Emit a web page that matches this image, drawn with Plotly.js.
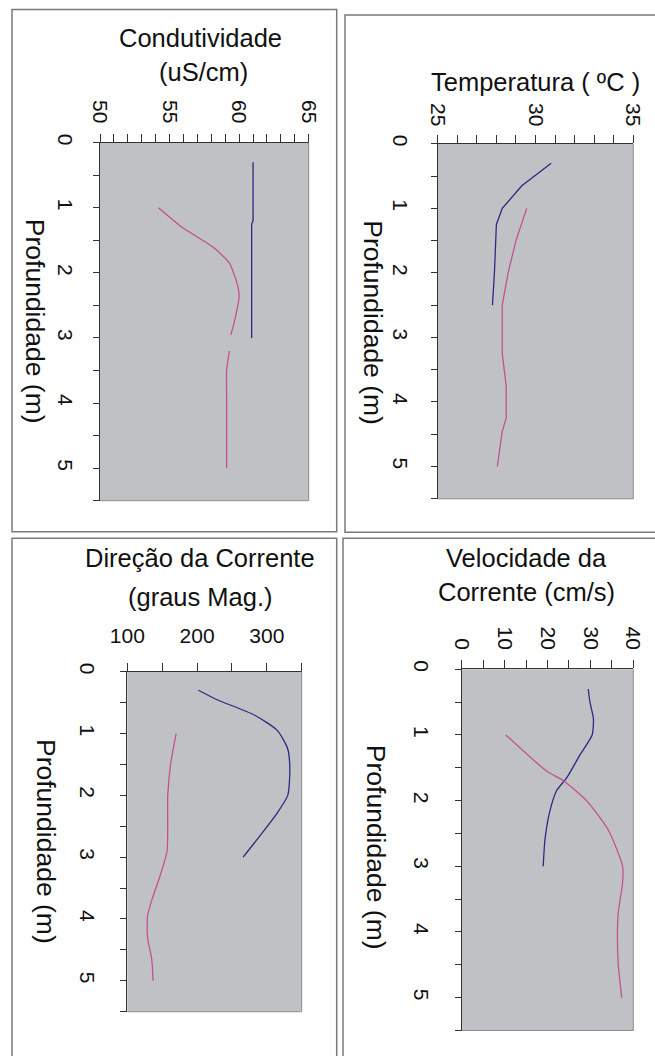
<!DOCTYPE html>
<html>
<head>
<meta charset="utf-8">
<script src="https://cdn.plot.ly/plotly-3.0.1.min.js"></script>
<style>
  html, body { margin: 0; padding: 0; background: #ffffff; }
  #chart { width: 655px; height: 1056px; }
</style>
</head>
<body>
<div id="chart"></div>
<script>
// ---------- data (depth in m) ----------
const condDepthA = [0.3, 1.2, 1.25, 3.0];
const condA      = [61.0, 61.0, 60.9, 60.9];
const condDepthB = [1.0, 1.3, 1.6, 1.85, 2.2, 2.35, 2.8, 2.95, 3.05, 3.2, 3.5, 3.9, 5.0];
const condB      = [54.2, 55.9, 58.1, 59.3, 59.9, 60.0, 59.6, 59.4, null, 59.3, 59.1, 59.1, 59.1];

const tempDepthA = [0.3, 0.65, 1.0, 1.25, 2.0, 2.5];
const tempA      = [30.8, 29.3, 28.3, 28.0, 27.9, 27.8];
const tempDepthB = [1.0, 1.5, 2.0, 2.3, 2.5, 3.0, 3.25, 3.75, 4.25, 4.45, 5.0];
const tempB      = [29.55, 29.0, 28.6, 28.4, 28.3, 28.3, 28.3, 28.5, 28.5, 28.3, 28.05];

const dirDepthA = [0.3, 0.45, 0.7, 0.95, 1.25, 1.6, 2.0, 2.3, 2.6, 3.0];
const dirA      = [202, 228, 282, 315, 330, 333, 330, 314, 294, 266];
const dirDepthB = [1.0, 1.5, 2.0, 2.9, 3.3, 3.7, 3.95, 4.3, 4.65, 5.0];
const dirB      = [170, 162, 158, 157, 147, 135, 129, 129, 135, 137];

const velDepthA = [0.3, 0.5, 0.75, 1.0, 1.3, 1.65, 1.85, 2.2, 2.6, 3.0];
const velA      = [29.5, 29.9, 30.7, 30.4, 27.6, 24.5, 22.1, 20.4, 19.4, 19.0];
const velDepthB = [1.0, 1.55, 1.7, 2.0, 2.45, 3.0, 3.25, 3.7, 4.0, 4.5, 5.0];
const velB      = [10.3, 19.8, 23.8, 29.1, 34.2, 37.5, 37.5, 36.5, 36.3, 36.5, 37.3];

const panelTitles = [
  ["Condutividade", "(uS/cm)"],
  ["Temperatura ( ºC )"],
  ["Direção da Corrente", "(graus Mag.)"],
  ["Velocidade da", "Corrente (cm/s)"]
];
const depthTitle = "Profundidade (m)";

// ---------- styling / layout helpers ----------
const W = 655, H = 1056;
const BLUE = "#2a2a82", PINK = "#c4508e";
const FONT = "Liberation Sans, Arial, sans-serif";
const px = v => v / W;
const py = v => 1 - v / H;

function line(x, y, xa, ya, color, shape) {
  return { type: "scatter", mode: "lines", x: x, y: y, xaxis: xa, yaxis: ya,
           connectgaps: false,
           line: { color: color, width: 1.3, shape: shape || "linear", smoothing: 0.6 },
           showlegend: false, hoverinfo: "skip" };
}

const data = [
  line(condA, condDepthA, "x", "y", BLUE),
  line(condB, condDepthB, "x", "y", PINK, "spline"),
  line(tempA, tempDepthA, "x2", "y2", BLUE),
  line(tempB, tempDepthB, "x2", "y2", PINK),
  line(dirA, dirDepthA, "x3", "y3", BLUE, "spline"),
  line(dirB, dirDepthB, "x3", "y3", PINK, "spline"),
  line(velA, velDepthA, "x4", "y4", BLUE, "spline"),
  line(velB, velDepthB, "x4", "y4", PINK, "spline")
];

// plot boxes in pixels: [left, right, top(depth 0), bottom(depth 5.5)]
const plots = [
  { l: 100,   r: 308.7, t: 142.7, b: 500.7, range: [50, 65],  dtick: 5,   minor: 1,  angle: 90, xso: 3,  yso: 10 },
  { l: 437.7, r: 633.3, t: 143.8, b: 498.8, range: [25, 35],  dtick: 5,   minor: 1,  angle: 90, xso: 1,  yso: 12 },
  { l: 127.3, r: 301.7, t: 671.7, b: 1011.7, range: [100, 350], dtick: 100, minor: 50, angle: 0, xso: 11, yso: 15 },
  { l: 461.7, r: 633.3, t: 669.3, b: 1030.5, range: [0, 40],  dtick: 10,  minor: 5,  angle: 90, xso: 3,  yso: 15 }
];

const layout = {
  width: W, height: H,
  margin: { l: 0, r: 0, t: 0, b: 0, pad: 0 },
  paper_bgcolor: "#ffffff",
  plot_bgcolor: "#c0c1c5",
  font: { family: FONT, color: "#111111" },
  showlegend: false,
  shapes: [],
  annotations: []
};

plots.forEach((p, i) => {
  const n = i === 0 ? "" : String(i + 1);
  layout["xaxis" + n] = {
    domain: [px(p.l), px(p.r)],
    anchor: "y" + n,
    side: "top",
    range: p.range,
    autorange: false,
    tick0: p.range[0],
    dtick: p.dtick,
    ticks: "outside",
    ticklen: 8,
    tickwidth: 1,
    tickcolor: "#333333",
    minor: { dtick: p.minor, tick0: p.range[0], ticks: "outside", ticklen: 8, tickwidth: 1, tickcolor: "#333333", showgrid: false },
    tickangle: p.angle,
    ticklabelstandoff: p.xso,
    tickfont: { family: FONT, size: 21, color: "#111111" },
    showline: true, linecolor: "#333333", linewidth: 1,
    showgrid: false, zeroline: false, fixedrange: true
  };
  layout["yaxis" + n] = {
    domain: [py(p.b), py(p.t)],
    anchor: "x" + n,
    range: [5.5, 0],
    autorange: false,
    tick0: 0,
    dtick: 1,
    ticks: "outside",
    ticklen: 6,
    tickwidth: 1,
    tickcolor: "#333333",
    minor: { dtick: 0.5, tick0: 0, ticks: "outside", ticklen: 6, tickwidth: 1, tickcolor: "#333333", showgrid: false },
    tickangle: 90,
    ticklabelstandoff: p.yso,
    tickfont: { family: FONT, size: 21, color: "#111111" },
    showline: true, linecolor: "#333333", linewidth: 1,
    showgrid: false, zeroline: false, fixedrange: true
  };
  // lighter right / bottom edges of the plot area
  layout.shapes.push({ type: "line", xref: "paper", yref: "paper",
    x0: px(p.r), x1: px(p.r), y0: py(p.t), y1: py(p.b), line: { color: "#8c8c8c", width: 1 } });
  layout.shapes.push({ type: "line", xref: "paper", yref: "paper",
    x0: px(p.l), x1: px(p.r), y0: py(p.b), y1: py(p.b), line: { color: "#8c8c8c", width: 1 } });
});

// outer panel frames
const frames = [
  [12, 336.7, 9.5, 531.7],
  [345, 660, 15, 532.3],
  [12, 336.7, 538.3, 1062],
  [343, 660, 538.3, 1062]
];
frames.forEach(f => {
  layout.shapes.push({ type: "rect", xref: "paper", yref: "paper",
    x0: px(f[0]), x1: px(f[1]), y0: py(f[3]), y1: py(f[2]),
    line: { color: "#7a7a7a", width: 1.5 }, fillcolor: "rgba(0,0,0,0)", layer: "below" });
});

// panel titles
const titlePos = [
  [[200.5, 38.3], [203, 71.7]],
  [[535, 81.7]],
  [[200, 558.3], [200, 596.7]],
  [[526.7, 558.3], [526, 591.7]]
];
panelTitles.forEach((lines, i) => {
  lines.forEach((t, j) => {
    layout.annotations.push({ xref: "paper", yref: "paper",
      x: px(titlePos[i][j][0]), y: py(titlePos[i][j][1]),
      xanchor: "center", yanchor: "middle", showarrow: false,
      text: t, font: { family: FONT, size: 25.5, color: "#111111" } });
  });
});

// depth axis titles (rotated clockwise)
const depthPos = [[35, 320.8], [373.3, 322.5], [46.7, 841.7], [376.7, 847.5]];
depthPos.forEach(d => {
  layout.annotations.push({ xref: "paper", yref: "paper",
    x: px(d[0]), y: py(d[1]), xanchor: "center", yanchor: "middle",
    showarrow: false, textangle: 90, text: depthTitle,
    font: { family: FONT, size: 26.5, color: "#111111" } });
});

Plotly.newPlot("chart", data, layout, { staticPlot: true, displayModeBar: false });
</script>
</body>
</html>
